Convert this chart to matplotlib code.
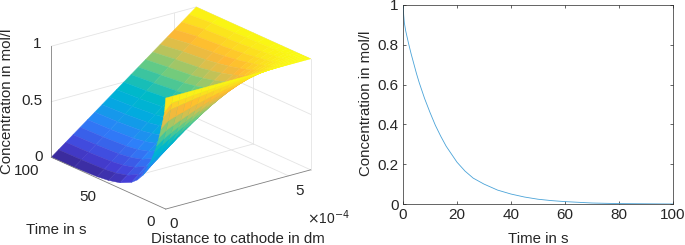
import numpy as np
import matplotlib
matplotlib.use('Agg')
import matplotlib.pyplot as plt
from matplotlib.colors import LinearSegmentedColormap

plt.rcParams['font.family'] = ['Liberation Sans', 'DejaVu Sans']

# surface
distance = np.array([0, .295, .59, .885, 1.18, 1.475, 1.77, 2.065, 2.36, 2.655, 2.95, 3.245, 3.54, 3.835, 4.13,
                     4.425, 4.72, 5.015, 5.31, 5.605, 5.9]) * 1e-4
time_grid = [0, 1, 2, 4, 6, 8, 10, 13, 16, 20, 25, 30, 40, 50, 60, 80, 100]
conc_surface = [
    [1, 1, 1, 1, 1, 1, 1, 1, 1, 1, 1, 1, 1, 1, 1, 1, 1, 1, 1, 1, 1],
    [.87, .933, .939, .945, .951, .956, .961, .966, .971, .975, .979, .982, .986, .988, .991, .993, .995, .997, .998, .999, 1],
    [.81, .870, .882, .894, .905, .915, .924, .934, .943, .951, .958, .965, .972, .977, .982, .987, .991, .994, .997, .999, 1],
    [.705, .758, .780, .800, .821, .840, .857, .875, .891, .906, .920, .933, .945, .956, .966, .975, .982, .988, .993, .997, 1],
    [.61, .661, .690, .719, .746, .772, .798, .821, .844, .865, .885, .904, .921, .936, .950, .963, .974, .983, .990, .996, 1],
    [.53, .577, .613, .647, .681, .713, .744, .774, .801, .828, .853, .876, .898, .918, .936, .952, .966, .978, .988, .995, 1],
    [.46, .505, .546, .585, .623, .660, .696, .730, .763, .794, .824, .851, .877, .901, .922, .941, .958, .973, .985, .994, 1],
    [.37, .415, .461, .506, .550, .593, .634, .674, .713, .749, .784, .817, .848, .876, .903, .926, .948, .966, .980, .992, 1],
    [.30, .343, .392, .441, .489, .536, .582, .626, .669, .710, .749, .787, .822, .855, .885, .913, .938, .959, .977, .990, 1],
    [.21, .268, .321, .373, .424, .475, .524, .573, .620, .666, .710, .752, .792, .829, .864, .896, .925, .950, .972, .988, 1],
    [.145, .201, .255, .309, .363, .416, .469, .520, .571, .620, .668, .715, .759, .802, .841, .878, .911, .941, .966, .986, 1],
    [.10, .154, .209, .264, .319, .373, .427, .481, .533, .585, .636, .685, .733, .778, .822, .862, .899, .932, .961, .983, 1],
    [.05, .100, .154, .209, .263, .317, .372, .426, .480, .535, .588, .640, .692, .742, .790, .836, .878, .917, .951, .979, 1],
    [.025, .074, .127, .180, .233, .287, .341, .395, .449, .503, .557, .610, .664, .716, .767, .816, .862, .905, .943, .976, 1],
    [.012, .061, .113, .165, .218, .270, .323, .376, .429, .483, .537, .590, .644, .697, .749, .800, .849, .895, .937, .972, 1],
    [.002, .053, .103, .154, .205, .256, .307, .359, .411, .463, .515, .568, .621, .674, .727, .780, .831, .880, .926, .967, 1],
    [0, .05, .1, .15, .2, .25, .3, .35, .4, .45, .5, .55, .6, .65, .7, .75, .8, .85, .9, .95, 1],
]

# curve of the right panel
time_line = [0, .25, .5, 1, 2, 3, 4, 5, 6, 8, 10, 12, 14, 16, 18, 20, 23, 26, 30, 35, 40, 45, 50, 55, 60, 70, 80, 90, 100]
conc_line = [1, .95, .91, .87, .81, .755, .705, .655, .61, .53, .46, .395, .34, .29, .25, .21, .165, .13, .10, .07,
             .05, .035, .024, .017, .012, .005, .002, .001, 0]

x_max = 5.9e-4
text_col = '#262626'
axis_col = '#808080'
grid_col = '#e4e4e4'
fs = 10.8
W, H = 685, 245

cmap = LinearSegmentedColormap.from_list('surf', [
    (0.0, (0.22, 0.15, 0.55)), (0.1, (0.27, 0.25, 0.85)), (0.25, (0.18, 0.50, 0.98)),
    (0.4, (0.0, 0.68, 0.87)), (0.5, (0.0, 0.73, 0.78)), (0.65, (0.42, 0.80, 0.50)),
    (0.78, (0.85, 0.75, 0.30)), (0.85, (1.0, 0.72, 0.20)), (1.0, (0.98, 0.98, 0.07))])

fig = plt.figure(figsize=(W / 100, H / 100), dpi=100)


def label(x, y, s, **kw):
    fig.text(x / W, 1 - y / H, s, color=text_col, fontsize=kw.pop('fontsize', fs), ha=kw.pop('ha', 'center'),
             va=kw.pop('va', 'center'), **kw)


# left panel, no mpl axis so the walls can go where matlab puts them
ax = fig.add_axes([37.7 / W, -6.3 / H, 279 / W, 279 / H], projection='3d', computed_zorder=False)
ax.set_proj_type('ortho')
ax.view_init(elev=20.5, azim=-127.7)
ax.set_box_aspect((187, 191, 121))
ax.set_xlim(0, x_max)
ax.set_ylim(0, 100)
ax.set_zlim(0, 1)
ax.set_axis_off()

for z in [0, 0.5, 1]:
    ax.plot([0, x_max], [100, 100], [z, z], color=grid_col, lw=.6, zorder=1)
    ax.plot([x_max, x_max], [100, 0], [z, z], color=grid_col, lw=.6, zorder=1)
ax.plot([5e-4, 5e-4], [100, 100], [0, 1], color=grid_col, lw=.6, zorder=1)
ax.plot([5e-4, 5e-4], [100, 0], [0, 0], color=grid_col, lw=.6, zorder=1)
ax.plot([x_max, x_max], [50, 50], [0, 1], color=grid_col, lw=.6, zorder=1)
ax.plot([0, x_max], [50, 50], [0, 0], color=grid_col, lw=.6, zorder=1)
ax.plot([x_max, x_max], [0, 0], [0, 1], color=grid_col, lw=.6, zorder=1)

T, X = np.meshgrid(time_grid, distance, indexing='ij')
surf = ax.plot_surface(X, T, np.array(conc_surface), cmap=cmap, vmin=0, vmax=1, rstride=1, cstride=1,
                       linewidth=.3, antialiased=True, shade=False, zorder=2)
surf.set_edgecolor('face')

ax.plot([0, 0], [100, 100], [0, 1], color=axis_col, lw=.6, zorder=3)
ax.plot([0, 0], [100, 0], [0, 0], color=axis_col, lw=.6, zorder=3)
ax.plot([0, x_max], [0, 0], [0, 0], color=axis_col, lw=.6, zorder=3)

label(7, 101, 'Concentration in mol/l', rotation=90)
label(41, 44, '1', ha='right', fontsize=11)
label(43, 101, '0.5', ha='right', fontsize=11)
label(43, 157, '0', ha='right', fontsize=11)
label(27, 171, '100', fontsize=11)
label(88, 197, '50', fontsize=11)
label(151, 222, '0', fontsize=11)
label(174, 224, '0', fontsize=11)
label(300, 191, '5', fontsize=11)
label(307, 218, r'$\times$10$^{-4}$', ha='left', fontsize=10)
label(56, 230, 'Time in s')
label(238, 239, 'Distance to cathode in dm')

# right panel
ax2 = fig.add_axes([403 / W, 1 - 204 / H, 270 / W, 199 / H])
ax2.plot(time_line, conc_line, color='#4aa3d8', lw=.6)
ax2.set_xlim(0, 100)
ax2.set_ylim(0, 1)
ax2.set_xticks([0, 20, 40, 60, 80, 100])
ax2.set_yticks([0, .2, .4, .6, .8, 1])
ax2.set_xticklabels(['0', '20', '40', '60', '80', '100'])
ax2.set_yticklabels(['0', '0.2', '0.4', '0.6', '0.8', '1'])
ax2.tick_params(direction='in', top=True, right=True, length=2.5, width=.5, color=text_col, labelcolor=text_col,
                labelsize=11, pad=3)
for s in ax2.spines.values():
    s.set_linewidth(.5)
    s.set_color(text_col)
label(366, 103, 'Concentration in mol/l', rotation=90)
label(538, 239, 'Time in s')

fig.savefig('out.png', dpi=100)
